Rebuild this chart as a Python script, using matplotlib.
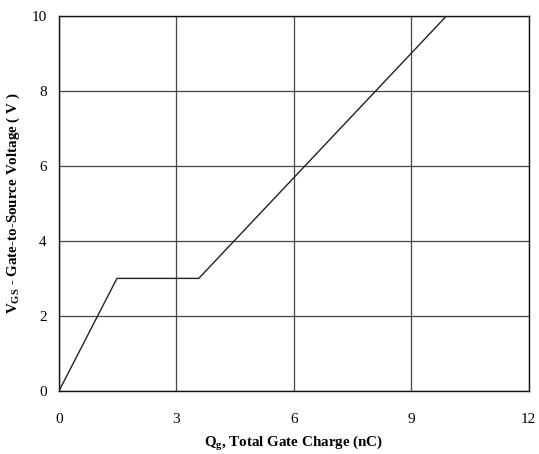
import matplotlib
matplotlib.use("Agg")
import matplotlib.pyplot as plt

# gate charge curve
qg_nc = [0.0, 1.48, 3.57, 9.9]
vgs_v = [0.0, 3.0, 3.0, 10.0]

x_ticks = [0, 3, 6, 9, 12]
y_ticks = [0, 2, 4, 6, 8, 10]

plt.rcParams["font.family"] = ["Liberation Serif", "DejaVu Serif"]
plt.rcParams["mathtext.fontset"] = "custom"
plt.rcParams["mathtext.rm"] = "Liberation Serif"
plt.rcParams["mathtext.bf"] = "Liberation Serif:bold"
plt.rcParams["mathtext.it"] = "Liberation Serif:italic"

fig = plt.figure(figsize=(5.39, 4.54), dpi=100)
ax = fig.add_axes([0.1095, 0.139, 0.8715, 0.826])

ax.plot(qg_nc, vgs_v, color="#222222", linewidth=1.0, zorder=3)

ax.set_xlim(0, 12)
ax.set_ylim(0, 10)
ax.set_xticks(x_ticks)
ax.set_yticks(y_ticks)
ax.grid(True, color="#444444", linewidth=0.9)
ax.tick_params(axis="x", length=0, pad=16, labelsize=11)
ax.tick_params(axis="y", length=0, pad=9, labelsize=11)
for s in ax.spines.values():
    s.set_color("#111111")
    s.set_linewidth(1.0)

ax.set_xlabel(r"$\mathbf{Q_g}$, Total Gate Charge (nC)", fontweight="bold",
              fontsize=10.8)
ax.set_ylabel(r"$\mathbf{V_{GS}}$ - Gate-to-Source Voltage ( V )", fontweight="bold",
              fontsize=10.8)
ax.xaxis.set_label_coords(0.5, -0.115)
ax.yaxis.set_label_coords(-0.079, 0.5)

fig.savefig("out.png", dpi=100)
